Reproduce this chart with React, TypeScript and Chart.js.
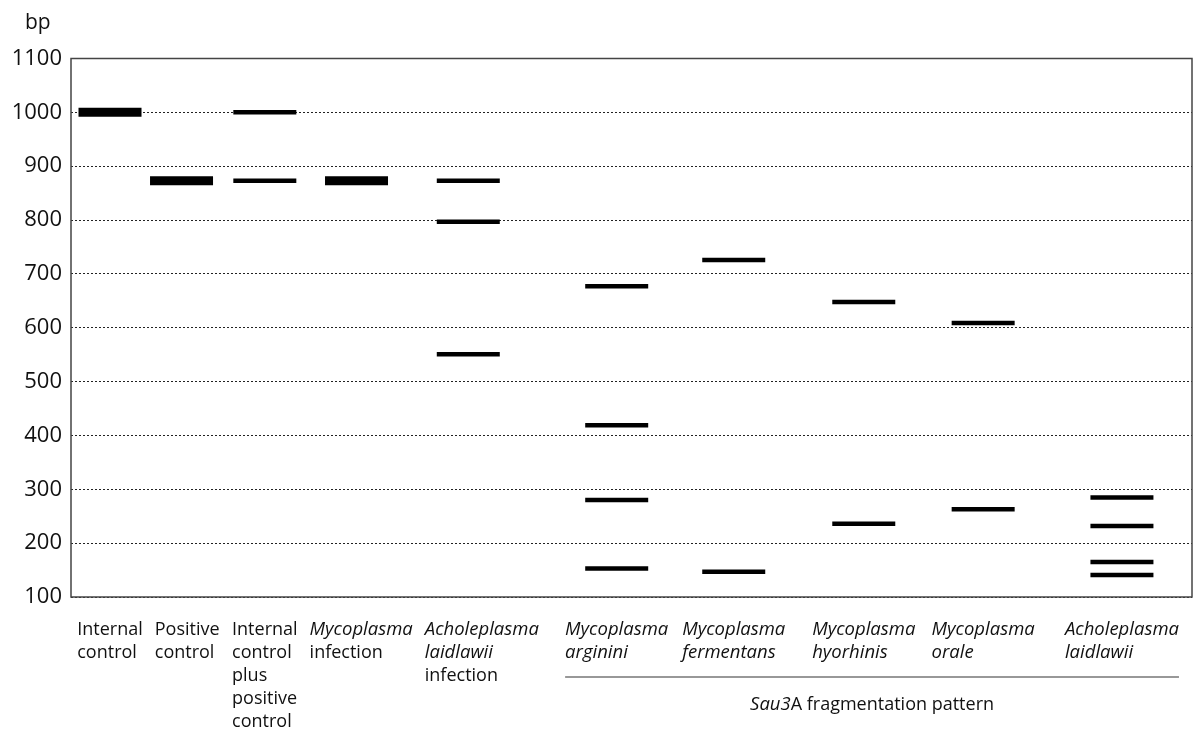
import React, { useEffect, useRef } from "react";
import { Chart, registerables } from "chart.js";

Chart.register(...registerables);

// ---------------- data ----------------
const yUnit = "bp";
const yTicks = [100, 200, 300, 400, 500, 600, 700, 800, 900, 1000, 1100];

// lane label lines and which of them are italic
const laneLabelLines: string[][] = [
  ["Internal", "control"],
  ["Positive", "control"],
  ["Internal", "control", "plus", "positive", "control"],
  ["Mycoplasma", "infection"],
  ["Acholeplasma", "laidlawii", "infection"],
  ["Mycoplasma", "arginini"],
  ["Mycoplasma", "fermentans"],
  ["Mycoplasma", "hyorhinis"],
  ["Mycoplasma", "orale"],
  ["Acholeplasma", "laidlawii"],
];
const laneLabelItalic: boolean[][] = [
  [false, false],
  [false, false],
  [false, false, false, false, false],
  [true, false],
  [true, true, false],
  [true, true],
  [true, true],
  [true, true],
  [true, true],
  [true, true],
];

// x-position of each lane along the gel (lane units)
const laneX = [0.348, 0.986, 1.729, 2.547, 3.544, 4.868, 5.912, 7.072, 8.137, 9.375];

// band sizes (bp) per lane and whether the band is strong
const bandSizes: number[][] = [
  [1000],
  [873],
  [1000, 873],
  [873],
  [873, 797, 551],
  [677, 419, 280, 153],
  [726, 147],
  [648, 236],
  [609, 263],
  [285, 232, 165, 141],
];
const bandStrong: boolean[][] = [
  [true],
  [true],
  [false, false],
  [true],
  [false, false, false],
  [false, false, false, false],
  [false, false],
  [false, false],
  [false, false],
  [false, false, false, false],
];

// group bracket under the last lanes
const groupFirstLane = 5;
const groupLastLane = 9;
const groupTextParts = [
  { text: "Sau3", italic: true },
  { text: "A fragmentation pattern", italic: false },
];

// ---------------- styles ----------------
const FONT = "'Open Sans', 'Noto Sans', sans-serif";
const LABEL_SIZE = 18;
const ITALIC_SIZE = 18.5;
const TICK_SIZE = 22;
const TEXT_COLOR = "#111";

export default function App() {
  const canvasRef = useRef<HTMLCanvasElement | null>(null);

  useEffect(() => {
    document.body.style.margin = "0";
    const canvas = canvasRef.current;
    if (!canvas) return;

    const strongPts: { x: number; y: number }[] = [];
    const weakPts: { x: number; y: number }[] = [];
    bandSizes.forEach((sizes, i) => {
      sizes.forEach((bp, j) => {
        const p = { x: laneX[i], y: bp };
        if (bandStrong[i][j]) strongPts.push(p);
        else weakPts.push(p);
      });
    });

    const decor = {
      id: "gelDecor",
      afterDraw(chart: any) {
        const { ctx, chartArea: a, scales } = chart;
        const xs = scales.x;
        ctx.save();
        ctx.setLineDash([]);
        // frame
        ctx.strokeStyle = "#444";
        ctx.lineWidth = 1.5;
        ctx.strokeRect(a.left, a.top, a.right - a.left, a.bottom - a.top);

        // unit
        ctx.fillStyle = TEXT_COLOR;
        ctx.textAlign = "left";
        ctx.textBaseline = "alphabetic";
        ctx.font = `${TICK_SIZE - 1}px ${FONT}`;
        ctx.fillText(yUnit, 25, a.top - 30);

        // lane labels
        const fontFor = (it: boolean) =>
          it ? `italic ${ITALIC_SIZE}px ${FONT}` : `${LABEL_SIZE}px ${FONT}`;
        const firstBase = a.bottom + 38;
        const pitch = 23;
        let prevRight = -Infinity;
        const blocks: { left: number; right: number }[] = [];
        laneLabelLines.forEach((lines, i) => {
          const widths = lines.map((t, j) => {
            ctx.font = fontFor(laneLabelItalic[i][j]);
            return ctx.measureText(t).width;
          });
          const w = Math.max(...widths);
          const cx = xs.getPixelForValue(laneX[i]);
          const left = Math.max(cx - w / 2, prevRight + 12, a.left + 1);
          lines.forEach((t, j) => {
            ctx.font = fontFor(laneLabelItalic[i][j]);
            ctx.fillText(t, left, firstBase + j * pitch);
          });
          blocks.push({ left, right: left + w });
          prevRight = left + w;
        });

        // group bracket
        const gl = blocks[groupFirstLane].left;
        const gr = blocks[groupLastLane].right;
        const gy = a.bottom + 80;
        ctx.strokeStyle = "#333";
        ctx.lineWidth = 1.2;
        ctx.beginPath();
        ctx.moveTo(gl, gy);
        ctx.lineTo(gr, gy);
        ctx.stroke();

        const partW = groupTextParts.map((p) => {
          ctx.font = fontFor(p.italic);
          return ctx.measureText(p.text).width;
        });
        const total = partW.reduce((s, v) => s + v, 0);
        let tx = (gl + gr) / 2 - total / 2;
        const ty = a.bottom + 113;
        groupTextParts.forEach((p, k) => {
          ctx.font = fontFor(p.italic);
          ctx.fillText(p.text, tx, ty);
          tx += partW[k];
        });
        ctx.restore();
      },
    };

    const bandDataset = (data: { x: number; y: number }[], width: number) => ({
      data,
      pointStyle: "line" as const,
      pointRadius: 31.5,
      pointHoverRadius: 31.5,
      borderColor: "#000",
      backgroundColor: "#000",
      borderWidth: width,
      pointBorderWidth: width,
      pointHoverBorderWidth: width,
    });

    const chart = new Chart(canvas, {
      type: "scatter",
      data: {
        datasets: [bandDataset(strongPts, 9), bandDataset(weakPts, 4.5)],
      },
      options: {
        responsive: false,
        animation: false,
        events: [],
        layout: { autoPadding: false, padding: { left: 0, top: 58.5, right: 9, bottom: 143 } },
        plugins: { legend: { display: false }, tooltip: { enabled: false } },
        scales: {
          x: {
            type: "linear",
            min: 0,
            max: 10,
            display: false,
          },
          y: {
            type: "linear",
            min: yTicks[0],
            max: yTicks[yTicks.length - 1],
            afterFit(scale: any) {
              scale.width = 71;
            },
            afterBuildTicks(scale: any) {
              scale.ticks = yTicks.map((v) => ({ value: v }));
            },
            ticks: {
              padding: 9,
              color: TEXT_COLOR,
              font: { family: FONT, size: TICK_SIZE },
              callback: (v: any) => String(v),
            },
            grid: {
              drawTicks: false,
              color: "#222",
              lineWidth: 1,
            },
            border: { display: false, dash: [2, 2] },
          },
        },
      },
      plugins: [decor],
    });

    return () => chart.destroy();
  }, []);

  return (
    <div style={{ width: 1201, height: 740 }}>
      <canvas ref={canvasRef} width={1201} height={740} style={{ display: "block" }} />
    </div>
  );
}
